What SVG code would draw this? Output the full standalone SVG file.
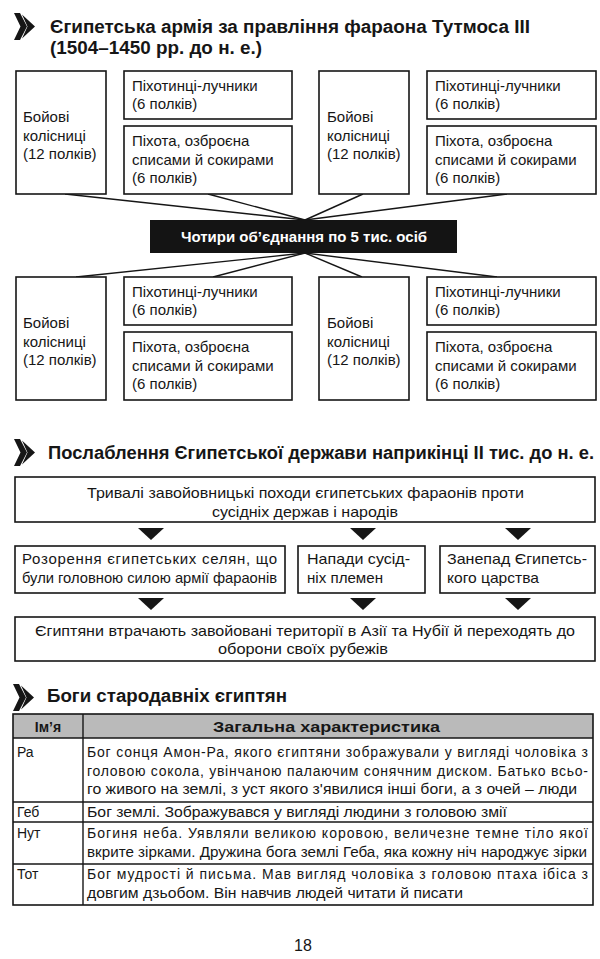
<svg xmlns="http://www.w3.org/2000/svg" xmlns:xlink="http://www.w3.org/1999/xlink" width="600" height="959" viewBox="0 0 600 959">
<style>
  text { font-family: "Liberation Sans", Arial, sans-serif; fill: #161616; }
  .t { font-size: 15px; }
  .s { font-size: 14px; }
  .h { font-size: 18px; font-weight: bold; }
  .b { fill: #fff; stroke: #161616; stroke-width: 1.6; }
  .c { stroke: #161616; stroke-width: 1.4; fill: none; }
  .ar { fill: #161616; }
  .wt { fill: #fff; font-weight: bold; font-size: 15px; }
  .bold { font-weight: bold; }
  .mid { text-anchor: middle; }
</style>
<defs>
  <symbol id="icon" viewBox="0 0 21 27" overflow="visible">
    <path d="M0,0 L6,0 L13,13.5 L6,27 L0,27 L6.5,13.5 Z" fill="#161616"/>
    <path d="M8,1.5 L21,13.5 L8,25.5 L13.5,13.5 Z" fill="#161616"/>
  </symbol>
</defs>
<rect x="0" y="0" width="600" height="959" fill="#fff"/>

<!-- Section 1 title -->
<g id="title1">
  <use xlink:href="#icon" href="#icon" x="14" y="13" width="21" height="27"/>
  <text class="h" x="50" y="33" textLength="480" lengthAdjust="spacingAndGlyphs">Єгипетська армія за правління фараона Тутмоса III</text>
  <text class="h" x="50" y="54" textLength="212" lengthAdjust="spacingAndGlyphs">(1504–1450 рр. до н. е.)</text>
</g>

<!-- Connectors -->
<g id="connectors">
  <line class="c" x1="65" y1="194" x2="305" y2="220"/>
  <line class="c" x1="208" y1="194" x2="305" y2="220"/>
  <line class="c" x1="363" y1="194" x2="305" y2="220"/>
  <line class="c" x1="507" y1="194" x2="305" y2="220"/>
  <line class="c" x1="305" y1="253" x2="76" y2="277"/>
  <line class="c" x1="305" y1="253" x2="213" y2="277"/>
  <line class="c" x1="305" y1="253" x2="362" y2="277"/>
  <line class="c" x1="305" y1="253" x2="497" y2="277"/>
  <!-- section 2 arrowheads -->
  <path class="ar" d="M138,528 L164,528 L151,540 Z"/>
  <path class="ar" d="M350,528 L376,528 L363,540 Z"/>
  <path class="ar" d="M505,528 L531,528 L518,540 Z"/>
  <path class="ar" d="M138,598 L164,598 L151,610 Z"/>
  <path class="ar" d="M350,598 L376,598 L363,610 Z"/>
  <path class="ar" d="M505,598 L531,598 L518,610 Z"/>
</g>

<!-- Upper-left group -->
<g id="chariots-tl">
  <rect class="b" x="16" y="71" width="90" height="123"/>
  <text class="t" x="23" y="122">Бойові</text>
  <text class="t" x="23" y="141">колісниці</text>
  <text class="t" x="23" y="159">(12 полків)</text>
</g>
<g id="archers-tl">
  <rect class="b" x="124" y="71" width="168" height="48"/>
  <text class="t" x="132" y="91">Піхотинці-лучники</text>
  <text class="t" x="132" y="109">(6 полків)</text>
</g>
<g id="infantry-tl">
  <rect class="b" x="124" y="126" width="168" height="68"/>
  <text class="t" x="132" y="146">Піхота, озброєна</text>
  <text class="t" x="132" y="164.5">списами й сокирами</text>
  <text class="t" x="132" y="183">(6 полків)</text>
</g>

<!-- Upper-right group -->
<g id="chariots-tr">
  <rect class="b" x="319" y="71" width="90" height="123"/>
  <text class="t" x="327" y="122">Бойові</text>
  <text class="t" x="327" y="141">колісниці</text>
  <text class="t" x="327" y="159">(12 полків)</text>
</g>
<g id="archers-tr">
  <rect class="b" x="427" y="71" width="169" height="48"/>
  <text class="t" x="435" y="91">Піхотинці-лучники</text>
  <text class="t" x="435" y="109">(6 полків)</text>
</g>
<g id="infantry-tr">
  <rect class="b" x="427" y="126" width="169" height="68"/>
  <text class="t" x="435" y="146">Піхота, озброєна</text>
  <text class="t" x="435" y="164.5">списами й сокирами</text>
  <text class="t" x="435" y="183">(6 полків)</text>
</g>

<!-- Central node -->
<g id="unions">
  <rect x="150" y="220" width="307" height="33" fill="#141414"/>
  <text class="wt mid" x="304" y="242">Чотири об’єднання по 5 тис. осіб</text>
</g>

<!-- Lower-left group -->
<g id="chariots-bl">
  <rect class="b" x="16" y="277" width="90" height="123"/>
  <text class="t" x="23" y="328">Бойові</text>
  <text class="t" x="23" y="347">колісниці</text>
  <text class="t" x="23" y="365">(12 полків)</text>
</g>
<g id="archers-bl">
  <rect class="b" x="124" y="277" width="168" height="48"/>
  <text class="t" x="132" y="297">Піхотинці-лучники</text>
  <text class="t" x="132" y="315">(6 полків)</text>
</g>
<g id="infantry-bl">
  <rect class="b" x="124" y="332" width="168" height="68"/>
  <text class="t" x="132" y="352">Піхота, озброєна</text>
  <text class="t" x="132" y="370.5">списами й сокирами</text>
  <text class="t" x="132" y="389">(6 полків)</text>
</g>

<!-- Lower-right group -->
<g id="chariots-br">
  <rect class="b" x="319" y="277" width="90" height="123"/>
  <text class="t" x="327" y="328">Бойові</text>
  <text class="t" x="327" y="347">колісниці</text>
  <text class="t" x="327" y="365">(12 полків)</text>
</g>
<g id="archers-br">
  <rect class="b" x="427" y="277" width="169" height="48"/>
  <text class="t" x="435" y="297">Піхотинці-лучники</text>
  <text class="t" x="435" y="315">(6 полків)</text>
</g>
<g id="infantry-br">
  <rect class="b" x="427" y="332" width="169" height="68"/>
  <text class="t" x="435" y="352">Піхота, озброєна</text>
  <text class="t" x="435" y="370.5">списами й сокирами</text>
  <text class="t" x="435" y="389">(6 полків)</text>
</g>

<!-- Section 2 title -->
<g id="title2">
  <use xlink:href="#icon" href="#icon" x="14" y="439" width="21" height="27"/>
  <text class="h" x="48" y="459" textLength="546" lengthAdjust="spacingAndGlyphs">Послаблення Єгипетської держави наприкінці II тис. до н. е.</text>
</g>

<g id="campaigns">
  <rect class="b" x="15" y="477" width="580" height="45"/>
  <text class="t" x="87" y="498" textLength="437" lengthAdjust="spacingAndGlyphs">Тривалі завойовницькі походи єгипетських фараонів проти</text>
  <text class="t" x="212" y="517" textLength="186" lengthAdjust="spacingAndGlyphs">сусідніх держав і народів</text>
</g>
<g id="ruin">
  <rect class="b" x="15" y="546" width="270" height="47"/>
  <text class="t" x="22" y="564" textLength="255" lengthAdjust="spacing">Розорення єгипетських селян, що</text>
  <text class="t" x="22" y="583" textLength="255" lengthAdjust="spacingAndGlyphs">були головною силою армії фараонів</text>
</g>
<g id="raids">
  <rect class="b" x="298" y="546" width="127" height="47"/>
  <text class="t" x="307" y="564" textLength="103" lengthAdjust="spacingAndGlyphs">Напади сусід-</text>
  <text class="t" x="307" y="583" textLength="76" lengthAdjust="spacingAndGlyphs">ніх племен</text>
</g>
<g id="decline">
  <rect class="b" x="440" y="546" width="155" height="47"/>
  <text class="t" x="447" y="564" textLength="140" lengthAdjust="spacingAndGlyphs">Занепад Єгипетсь-</text>
  <text class="t" x="447" y="583" textLength="92" lengthAdjust="spacingAndGlyphs">кого царства</text>
</g>
<g id="losses">
  <rect class="b" x="15" y="617" width="580" height="44"/>
  <text class="t" x="35" y="636" textLength="540" lengthAdjust="spacingAndGlyphs">Єгиптяни втрачають завойовані території в Азії та Нубії й переходять до</text>
  <text class="t" x="218" y="654" textLength="170" lengthAdjust="spacingAndGlyphs">оборони своїх рубежів</text>
</g>

<!-- Section 3 -->
<g id="title3">
  <use xlink:href="#icon" href="#icon" x="13" y="684" width="21" height="27"/>
  <text class="h" x="47" y="702" textLength="240" lengthAdjust="spacingAndGlyphs">Боги стародавніх єгиптян</text>
</g>

<g id="table">
  <rect x="13" y="714" width="580" height="24" fill="#bababa"/>
  <rect x="13" y="714" width="580" height="191" fill="none" stroke="#161616" stroke-width="1.6"/>
  <line class="c" x1="13" y1="738" x2="593" y2="738"/>
  <line class="c" x1="13" y1="802" x2="593" y2="802"/>
  <line class="c" x1="13" y1="822" x2="593" y2="822"/>
  <line class="c" x1="13" y1="864" x2="593" y2="864"/>
  <line class="c" x1="83" y1="714" x2="83" y2="905"/>
  <text class="s bold mid" x="48" y="732">Ім’я</text>
  <text class="s bold" x="213" y="732" textLength="227" lengthAdjust="spacingAndGlyphs">Загальна характеристика</text>

  <text class="s" x="17" y="757">Ра</text>
  <text class="s" x="87" y="757" textLength="501" lengthAdjust="spacing">Бог сонця Амон-Ра, якого єгиптяни зображували у вигляді чоловіка з</text>
  <text class="s" x="87" y="775.5" textLength="501" lengthAdjust="spacing">головою сокола, увінчаною палаючим сонячним диском. Батько всьо-</text>
  <text class="s" x="87" y="794" textLength="490" lengthAdjust="spacingAndGlyphs">го живого на землі, з уст якого з'явилися інші боги, а з очей – люди</text>

  <text class="s" x="17" y="817">Геб</text>
  <text class="s" x="87" y="817" textLength="420" lengthAdjust="spacingAndGlyphs">Бог землі. Зображувався у вигляді людини з головою змії</text>

  <text class="s" x="17" y="838">Нут</text>
  <text class="s" x="87" y="838" textLength="501" lengthAdjust="spacing">Богиня неба. Уявляли великою коровою, величезне темне тіло якої</text>
  <text class="s" x="87" y="857" textLength="500" lengthAdjust="spacingAndGlyphs">вкрите зірками. Дружина бога землі Геба, яка кожну ніч народжує зірки</text>

  <text class="s" x="17" y="879">Тот</text>
  <text class="s" x="87" y="879" textLength="501" lengthAdjust="spacing">Бог мудрості й письма. Мав вигляд чоловіка з головою птаха ібіса з</text>
  <text class="s" x="87" y="898" textLength="376" lengthAdjust="spacingAndGlyphs">довгим дзьобом. Він навчив людей читати й писати</text>
</g>

<text class="mid" x="303" y="951" font-size="16">18</text>
</svg>
